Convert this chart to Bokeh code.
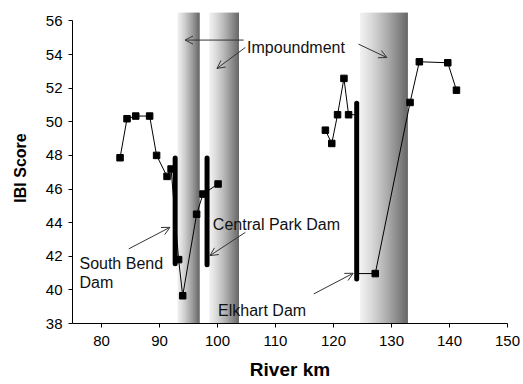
from bokeh.plotting import figure
from bokeh.models import Range1d, Arrow, OpenHead, Label, FixedTicker
from bokeh.embed import file_html
from bokeh.resources import INLINE

# ---- data ----
river_km = [83.2, 84.4, 85.9, 88.3, 89.5, 91.3, 92.0, 93.3, 94.0, 96.4, 97.5, 100.1,
            118.6, 119.7, 120.7, 121.8, 122.6, 124.0, 124.0, 127.2, 133.2, 134.8, 139.7, 141.2]
ibi_score = [47.86, 50.18, 50.34, 50.34, 48.0, 46.75, 47.19, 41.8, 39.65, 44.5, 45.7, 46.3,
             49.5, 48.71, 50.42, 52.58, 50.42, 50.42, 40.97, 40.97, 51.15, 53.57, 53.51, 51.88]
# points at the Elkhart Dam itself are hidden behind the dam bar (no marker)
marker_shown = [True] * 17 + [False, False] + [True] * 5
segment_break = 12  # first 12 points: downstream reach; rest: upstream reach

dam_names = ["South Bend Dam", "Central Park Dam", "Elkhart Dam"]
dam_km = [92.7, 98.2, 124.0]
dam_top = [47.85, 47.85, 51.1]
dam_bottom = [41.55, 41.5, 40.65]

impound_start = [93.1, 98.6, 124.6]
impound_end = [96.9, 103.7, 132.8]

x_ticks = [80, 90, 100, 110, 120, 130, 140, 150]
y_ticks = [38, 40, 42, 44, 46, 48, 50, 52, 54, 56]

FONT = "Liberation Sans"

p = figure(frame_width=435, frame_height=311, output_backend="svg", toolbar_location=None,
           x_range=Range1d(75, 150), y_range=Range1d(38, 56.5),
           min_border_left=72, min_border_right=16, min_border_top=12, min_border_bottom=61)
p.outline_line_color = None
p.xgrid.visible = False
p.ygrid.visible = False
p.background_fill_color = "white"

# ---- impoundment bands with a left-to-right light-to-dark gradient ----
n_steps = 30
lefts, rights, colors = [], [], []
for a, b in zip(impound_start, impound_end):
    w = (b - a) / n_steps
    for i in range(n_steps):
        t = (i + 0.5) / n_steps
        t = t ** 1.25
        c0, c1 = 0xf0, 0x66
        g = int(round(c0 + (c1 - c0) * t))
        lefts.append(a + i * w)
        rights.append(min(b, a + (i + 2) * w))
        colors.append("#%02x%02x%02x" % (g, g, g))
p.quad(left=lefts, right=rights, bottom=38, top=56.5, fill_color=colors, line_color=None)

# ---- IBI series ----
p.line(river_km[:segment_break], ibi_score[:segment_break], line_color="black", line_width=1)
p.line(river_km[segment_break:], ibi_score[segment_break:], line_color="black", line_width=1)
mx = [x for x, s in zip(river_km, marker_shown) if s]
my = [y for y, s in zip(ibi_score, marker_shown) if s]
p.scatter(mx, my, marker="square", size=6.5, fill_color="black", line_color="black")

# ---- dams ----
p.segment(x0=dam_km, y0=dam_bottom, x1=dam_km, y1=dam_top, line_color="black",
          line_width=5, line_cap="round")

# ---- annotations ----
def add_text(x, y, txt):
    p.add_layout(Label(x=x, y=y, text=txt, text_font=FONT, text_font_size="16px",
                       text_color="#111111", text_baseline="alphabetic"))

add_text(105.1, 54.42, "Impoundment")
add_text(76.2, 41.58, "South Bend")
add_text(76.2, 40.45, "Dam")
add_text(99.2, 43.86, "Central Park Dam")
add_text(100.1, 38.77, "Elkhart Dam")

arrows = [
    (104.5, 54.86, 94.4, 54.86),
    (104.8, 54.42, 99.9, 53.17),
    (124.3, 54.62, 129.2, 53.82),
    (84.7, 42.44, 91.8, 43.72),
    (104.8, 43.42, 98.7, 42.04),
    (116.6, 39.76, 123.4, 40.99),
]
for xs, ys, xe, ye in arrows:
    p.add_layout(Arrow(end=OpenHead(size=8, line_width=1, line_color="#333333"),
                       x_start=xs, y_start=ys, x_end=xe, y_end=ye,
                       line_width=1, line_color="#333333"))

# ---- axes ----
p.xaxis.ticker = FixedTicker(ticks=x_ticks)
p.yaxis.ticker = FixedTicker(ticks=y_ticks)
p.yaxis.bounds = (38, 56)
for ax in (p.xaxis[0], p.yaxis[0]):
    ax.axis_line_color = "black"
    ax.major_tick_line_color = "black"
    ax.major_tick_out = 4
    ax.major_tick_in = 0
    ax.minor_tick_line_color = None
    ax.major_label_text_font = FONT
    ax.major_label_text_font_size = "15px"
    ax.major_label_text_color = "black"
    ax.axis_label_text_font = FONT
    ax.axis_label_text_font_style = "bold"
    ax.axis_label_text_color = "black"

p.xaxis.axis_label = "River km"
p.xaxis.axis_label_text_font_size = "19px"
p.xaxis.major_label_standoff = 8
p.xaxis.axis_label_standoff = 10
p.yaxis.axis_label = "IBI Score"
p.yaxis.axis_label_text_font_size = "16px"
p.yaxis.major_label_standoff = 6
p.yaxis.axis_label_standoff = 14

open("out.html", "w").write(file_html(p, INLINE))
